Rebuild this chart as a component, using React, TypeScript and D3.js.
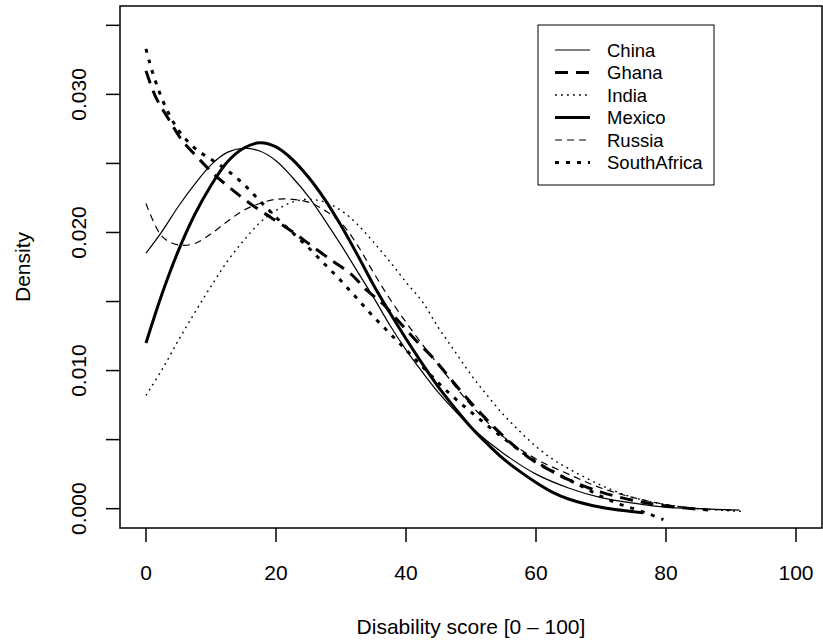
import React from 'react';
import * as d3 from 'd3';

// ---- data (density curves) ----
const countries = ['China', 'Ghana', 'India', 'Mexico', 'Russia', 'SouthAfrica'];

const chinaX = [0, 2.5, 5, 7.5, 10, 12.5, 15, 17.5, 20, 22.5, 25, 27.5, 30, 32.5, 35, 37.5, 40, 42.5, 45, 47.5, 50, 55, 60, 65, 70, 75, 80, 85, 91.3];
const chinaY = [0.0185, 0.0201, 0.0219, 0.0235, 0.0249, 0.0258, 0.0261, 0.0259, 0.0252, 0.024, 0.0226, 0.0209, 0.0191, 0.0172, 0.0153, 0.0133, 0.0115, 0.0099, 0.0084, 0.0071, 0.0059, 0.004, 0.0025, 0.0015, 0.0008, 0.0004, 0.0001, 0.0, -0.0001];

const ghanaX = [0, 1.5, 3.5, 5.5, 8, 10.5, 13, 16, 19.5, 23, 25, 28.5, 31.5, 34, 36.5, 39, 41.5, 44, 46.5, 49, 51.5, 54, 56.5, 59.5, 62.5, 65, 70, 75, 80, 86.5];
const ghanaY = [0.0317, 0.0298, 0.0282, 0.0267, 0.0254, 0.0242, 0.0232, 0.0221, 0.021, 0.0199, 0.0192, 0.018, 0.017, 0.0158, 0.0148, 0.0135, 0.0122, 0.011, 0.0096, 0.0082, 0.0069, 0.0057, 0.0046, 0.0035, 0.0027, 0.0021, 0.0012, 0.0006, 0.0002, -0.0001];

const indiaX = [0, 2.5, 5, 7.5, 10, 12.5, 15, 17.5, 20, 22.5, 25, 27.5, 30, 32.5, 35, 37.5, 40, 42.5, 45, 47.5, 50, 52.5, 55, 57.5, 60, 62.5, 65, 70, 75, 80, 85, 91.8];
const indiaY = [0.0082, 0.0101, 0.0122, 0.0142, 0.0161, 0.0179, 0.0194, 0.0207, 0.0216, 0.0222, 0.0224, 0.0222, 0.0216, 0.0206, 0.0193, 0.0179, 0.0164, 0.015, 0.0131, 0.0114, 0.0097, 0.0082, 0.0068, 0.0056, 0.0045, 0.0036, 0.0029, 0.0017, 0.0008, 0.0003, 0.0, -0.0002];

const mexicoX = [0, 2.5, 5, 7.5, 10, 12.5, 15, 17.5, 20, 22.5, 25, 27.5, 30, 32.5, 35, 37.5, 40, 42.5, 45, 47.5, 50, 52.5, 55, 57.5, 60, 62.5, 65, 70, 76.5];
const mexicoY = [0.012, 0.0156, 0.0187, 0.0213, 0.0234, 0.0251, 0.0261, 0.0265, 0.0262, 0.0253, 0.024, 0.0224, 0.0205, 0.0184, 0.0162, 0.0142, 0.0123, 0.0105, 0.0088, 0.0073, 0.0059, 0.0047, 0.0036, 0.0027, 0.0019, 0.0012, 0.0007, 0.0001, -0.0003];

const russiaX = [0, 2.5, 5, 7.5, 10, 12.5, 15, 17.5, 20, 22.5, 25, 27.5, 30, 32.5, 35, 37.5, 40, 42.5, 45, 47.5, 50, 55, 60, 65, 70, 75, 80, 85, 90];
const russiaY = [0.0221, 0.0197, 0.0191, 0.0192, 0.0199, 0.0208, 0.0216, 0.0221, 0.0224, 0.0224, 0.0222, 0.0216, 0.0207, 0.0191, 0.0171, 0.0152, 0.0135, 0.0119, 0.0104, 0.0089, 0.0075, 0.0052, 0.0036, 0.0025, 0.0015, 0.0008, 0.0003, 0.0, -0.0001];

const southAfricaX = [0, 0.5, 1.5, 3, 5, 7.5, 10, 12.5, 15, 17.5, 20, 22.5, 25, 27.5, 30, 32.5, 35, 37.5, 40, 42.5, 45, 47.5, 50, 55, 60, 65, 67.5, 70, 72.5, 75, 77.5, 79.6];
const southAfricaY = [0.0333, 0.0324, 0.0309, 0.0291, 0.0274, 0.0261, 0.0253, 0.0245, 0.0235, 0.0223, 0.0211, 0.02, 0.0189, 0.0177, 0.0165, 0.0152, 0.0139, 0.0127, 0.0115, 0.0103, 0.0091, 0.008, 0.007, 0.0051, 0.0034, 0.0021, 0.0015, 0.0009, 0.0004, 0.0, -0.0004, -0.0008];

const xTicks = [0, 20, 40, 60, 80, 100];
const yTicks = [0, 0.005, 0.01, 0.015, 0.02, 0.025, 0.03, 0.035];
const yLabelTicks = [0, 0.01, 0.02, 0.03];
const xTitle = 'Disability score [0 \u2013 100]';
const yTitle = 'Density';

const seriesX = [chinaX, ghanaX, indiaX, mexicoX, russiaX, southAfricaX];
const seriesY = [chinaY, ghanaY, indiaY, mexicoY, russiaY, southAfricaY];

// line styles (R lty / lwd look)
const widths = [1.2, 3, 1.4, 3, 1.2, 3];
const dashes = ['none', '13,8', '1.8,4.2', 'none', '7,5', '4,7'];

const FONT = '"Liberation Sans", Arial, Helvetica, sans-serif';

export default function App() {
  const W = 823;
  const H = 643;
  const left = 120, right = 822, top = 6, bottom = 528;
  const x = d3.scaleLinear().domain([-4, 104]).range([left, right]);
  const y = d3.scaleLinear().domain([-0.0014, 0.0364]).range([bottom, top]);

  const line = d3
    .line<[number, number]>()
    .x((d) => x(d[0]))
    .y((d) => y(d[1]))
    .curve(d3.curveCatmullRom.alpha(0.5));

  const legend = { x0: 538, y0: 25, x1: 714, y1: 185, rowY0: 50, rowH: 22.5, lx0: 555, lx1: 590, tx: 607 };

  return (
    <svg
      width={W}
      height={H}
      viewBox={`0 0 ${W} ${H}`}
      style={{ position: 'absolute', left: 0, top: 0, background: '#fff' }}
      fontFamily={FONT}
    >
      <rect x={0} y={0} width={W} height={H} fill="#fff" />
      {/* curves */}
      {countries.map((c, i) => {
        const pts: [number, number][] = seriesX[i].map((v, j) => [v, seriesY[i][j]]);
        return (
          <path
            key={c}
            d={line(pts) || ''}
            fill="none"
            stroke="#000"
            strokeWidth={widths[i]}
            strokeDasharray={dashes[i]}
            strokeLinecap="butt"
            strokeLinejoin="round"
          />
        );
      })}
      {/* plot box */}
      <rect x={left} y={top} width={right - left} height={bottom - top} fill="none" stroke="#000" strokeWidth={1.5} />
      {/* x axis */}
      {xTicks.map((t) => (
        <g key={'xt' + t}>
          <line x1={x(t)} x2={x(t)} y1={bottom} y2={bottom + 14} stroke="#000" strokeWidth={1.5} />
          <text x={x(t)} y={579.5} textAnchor="middle" fontSize={21} fill="#000">
            {t}
          </text>
        </g>
      ))}
      {/* y axis */}
      {yTicks.map((t) => (
        <line key={'yt' + t} x1={left - 14} x2={left} y1={y(t)} y2={y(t)} stroke="#000" strokeWidth={1.5} />
      ))}
      {yLabelTicks.map((t) => (
        <text
          key={'yl' + t}
          transform={`translate(86,${y(t)}) rotate(-90)`}
          textAnchor="middle"
          fontSize={21}
          fill="#000"
        >
          {d3.format('.3f')(t)}
        </text>
      ))}
      {/* titles */}
      <text x={(left + right) / 2} y={634} textAnchor="middle" fontSize={21} fill="#000">
        {xTitle}
      </text>
      <text transform={`translate(30,${(top + bottom) / 2}) rotate(-90)`} textAnchor="middle" fontSize={21} fill="#000">
        {yTitle}
      </text>
      {/* legend */}
      <rect
        x={legend.x0}
        y={legend.y0}
        width={legend.x1 - legend.x0}
        height={legend.y1 - legend.y0}
        fill="#fff"
        stroke="#000"
        strokeWidth={1}
      />
      {countries.map((c, i) => {
        const yy = legend.rowY0 + i * legend.rowH;
        return (
          <g key={'lg' + c}>
            <line
              x1={legend.lx0}
              x2={legend.lx1}
              y1={yy}
              y2={yy}
              stroke="#000"
              strokeWidth={widths[i]}
              strokeDasharray={dashes[i]}
            />
            <text x={legend.tx} y={yy + 6.5} fontSize={18.5} fill="#000">
              {c}
            </text>
          </g>
        );
      })}
    </svg>
  );
}
